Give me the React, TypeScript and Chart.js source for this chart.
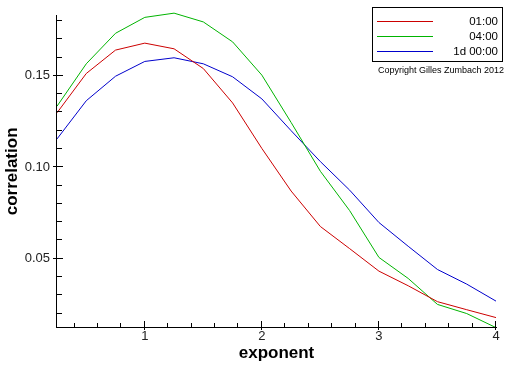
import React, { useEffect, useRef } from "react";
import { Chart, registerables } from "chart.js";

Chart.register(...registerables);

const exponents = [0.25, 0.5, 0.75, 1.0, 1.25, 1.5, 1.75, 2.0, 2.25, 2.5, 2.75, 3.0, 3.25, 3.5, 3.75, 4.0];
const series01h = [0.1298, 0.1513, 0.1641, 0.1679, 0.1648, 0.154, 0.1352, 0.1103, 0.087, 0.0676, 0.0555, 0.0432, 0.0352, 0.0265, 0.0221, 0.0178];
const series04h = [0.1334, 0.1566, 0.1733, 0.182, 0.1843, 0.1795, 0.1686, 0.1504, 0.1245, 0.0978, 0.0763, 0.0507, 0.0392, 0.025, 0.02, 0.0123];
const series1d = [0.1155, 0.1364, 0.1498, 0.1579, 0.1599, 0.1566, 0.1495, 0.1374, 0.12, 0.1031, 0.0875, 0.0698, 0.0568, 0.0441, 0.0361, 0.0268];
const seriesNames = ["01:00", "04:00", "1d 00:00"];
const seriesColors = ["#cc0000", "#00b400", "#0000cc"];
const xTicks = [1, 2, 3, 4];
const yTicks = [0.05, 0.1, 0.15];
const xMinorTicks = [0.4, 0.6, 0.8, 1.2, 1.4, 1.6, 1.8, 2.2, 2.4, 2.6, 2.8, 3.2, 3.4, 3.6, 3.8];
const yMinorTicks = [0.02, 0.03, 0.04, 0.06, 0.07, 0.08, 0.09, 0.11, 0.12, 0.13, 0.14, 0.16, 0.17, 0.18];
const copyright = "Copyright Gilles Zumbach 2012";

const FONT = "'Liberation Sans', Arial, sans-serif";

const axesPlugin = {
  id: "customAxes",
  afterDatasetsDraw(chart: any) {
    const { ctx, chartArea } = chart;
    const xs = chart.scales.x;
    const ys = chart.scales.y;
    const L = Math.round(chartArea.left) - 1;
    const B = Math.round(chartArea.bottom) - 1;
    const T = Math.round(chartArea.top);
    const R = Math.round(chartArea.right);
    ctx.save();
    ctx.fillStyle = "#000";
    // axis lines
    ctx.fillRect(L, T, 1, B - T + 1);
    ctx.fillRect(L, B, R - L + 1, 1);
    for (const v of xTicks) {
      const px = Math.round(xs.getPixelForValue(v)) - 1;
      ctx.fillRect(px, B - 6, 1, 9);
    }
    for (const v of xMinorTicks) {
      const px = Math.round(xs.getPixelForValue(v)) - 1;
      ctx.fillRect(px, B - 4, 1, 4);
    }
    for (const v of yTicks) {
      const py = Math.round(ys.getPixelForValue(v)) - 1;
      ctx.fillRect(L - 3, py, 10, 1);
    }
    for (const v of yMinorTicks) {
      const py = Math.round(ys.getPixelForValue(v)) - 1;
      ctx.fillRect(L, py, 6, 1);
    }

    // legend box
    ctx.fillRect(372, 7, 131, 1);
    ctx.fillRect(372, 61, 131, 1);
    ctx.fillRect(372, 7, 1, 55);
    ctx.fillRect(502, 7, 1, 55);
    const rows = [21, 36, 51];
    for (let i = 0; i < seriesNames.length; i++) {
      ctx.fillStyle = seriesColors[i];
      ctx.fillRect(377, rows[i], 56, 1);
      ctx.fillStyle = "#000";
      ctx.font = `11.5px ${FONT}`;
      ctx.textAlign = "right";
      ctx.textBaseline = "middle";
      ctx.fillText(seriesNames[i], 498, rows[i] + 1);
    }
    ctx.fillStyle = "#000";
    ctx.font = `9px ${FONT}`;
    ctx.textAlign = "left";
    ctx.textBaseline = "middle";
    ctx.fillText(copyright, 378, 71);
    ctx.restore();
  },
};

export default function App() {
  const ref = useRef<HTMLCanvasElement>(null);
  useEffect(() => {
    if (!ref.current) return;
    const makeDs = (label: string, data: number[], color: string) => ({
      label,
      data: exponents.map((x, i) => ({ x, y: data[i] })),
      borderColor: color,
      backgroundColor: color,
      borderWidth: 1,
      pointRadius: 0,
      tension: 0,
      fill: false,
      clip: false,
    });
    const chart = new Chart(ref.current, {
      type: "line",
      data: {
        datasets: [
          makeDs(seriesNames[0], series01h, seriesColors[0]),
          makeDs(seriesNames[1], series04h, seriesColors[1]),
          makeDs(seriesNames[2], series1d, seriesColors[2]),
        ],
      },
      options: {
        animation: false,
        responsive: false,
        events: [],
        layout: { padding: { top: 8, right: 16, left: 0, bottom: 0 } },
        plugins: { legend: { display: false }, tooltip: { enabled: false } },
        scales: {
          x: {
            type: "linear",
            min: 0.25,
            max: 4,
            grid: { display: false, drawTicks: false, tickLength: 0 },
            border: { display: false },
            afterBuildTicks: (s: any) => {
              s.ticks = xTicks.map((v) => ({ value: v }));
            },
            afterFit: (s: any) => {
              s.height = 38;
            },
            ticks: {
              padding: 1,
              color: "#222",
              font: { family: FONT, size: 13 },
              maxRotation: 0,
              autoSkip: false,
              callback: (v: any) => String(v),
            },
            title: {
              display: true,
              text: "exponent",
              color: "#000",
              font: { family: FONT, size: 17, weight: "bold" },
              padding: { top: 0, bottom: 2 },
            },
          },
          y: {
            type: "linear",
            min: 0.0121,
            max: 0.1834,
            grid: { display: false, drawTicks: false, tickLength: 0 },
            border: { display: false },
            afterBuildTicks: (s: any) => {
              s.ticks = yTicks.map((v) => ({ value: v }));
            },
            afterFit: (s: any) => {
              s.width = 57;
            },
            ticks: {
              padding: 7,
              color: "#222",
              font: { family: FONT, size: 13 },
              autoSkip: false,
              callback: (v: any) => Number(v).toFixed(2),
            },
            title: {
              display: true,
              text: "correlation",
              color: "#000",
              font: { family: FONT, size: 17, weight: "bold" },
              padding: { top: 2, bottom: 0 },
            },
          },
        },
      },
      plugins: [axesPlugin],
    });
    return () => chart.destroy();
  }, []);
  return (
    <div style={{ position: "fixed", left: 0, top: 0, width: 512, height: 366, background: "#fff" }}>
      <canvas ref={ref} width={512} height={366} style={{ width: 512, height: 366, display: "block" }} />
    </div>
  );
}
